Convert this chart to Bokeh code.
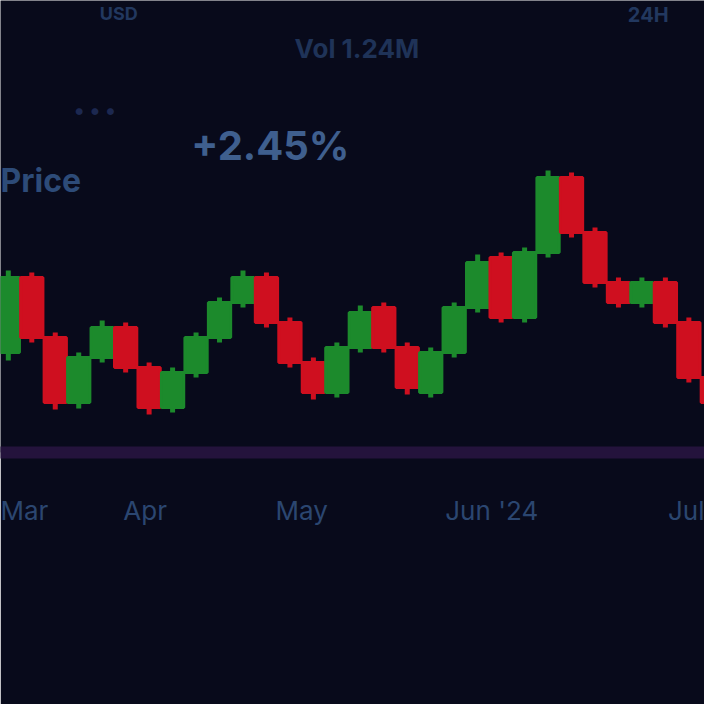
from bokeh.plotting import figure
from bokeh.models import Range1d, FixedTicker, Label, ColumnDataSource
from bokeh.embed import file_html
from bokeh.resources import INLINE

# ---- data ----
idx = list(range(31))
opens = [140, 215, 155, 90, 135, 165, 125, 85, 120, 155, 190, 215, 170, 130, 100, 145,
         185, 145, 100, 140, 185, 235, 175, 240, 315, 260, 210, 190, 210, 170, 115]
closes = [215, 155, 90, 135, 165, 125, 85, 120, 155, 190, 215, 170, 130, 100, 145, 180,
          145, 105, 140, 185, 230, 175, 240, 315, 260, 210, 190, 210, 170, 115, 90]
highs = [222, 220, 160, 140, 172, 170, 130, 125, 160, 195, 222, 220, 175, 135, 150, 187,
         190, 150, 145, 190, 238, 240, 245, 322, 320, 265, 215, 215, 215, 175, 120]
lows = [132, 150, 83, 84, 130, 120, 78, 80, 115, 150, 185, 165, 125, 93, 95, 140,
        140, 98, 95, 135, 180, 170, 170, 235, 255, 205, 185, 185, 165, 110, 84]
tick_pos = [0.42, 5.83, 12.5, 20.6, 29.2]
tick_labels = ["Mar", "Apr", "May", "Jun '24", "Jul"]

GREEN = "#1c8a2c"
RED = "#cf0f1f"
BG = "#080a1b"

colors = [GREEN if c >= o else RED for o, c in zip(opens, closes)]
top = [max(o, c) for o, c in zip(opens, closes)]
bot = [min(o, c) for o, c in zip(opens, closes)]
src = ColumnDataSource(dict(x=idx, top=top, bot=bot, hi=highs, lo=lows, color=colors))

p = figure(width=704, height=704, output_backend="svg", toolbar_location=None,
           x_range=Range1d(-8 / 24, 712 / 24), y_range=Range1d(40, 492),
           background_fill_color=BG, border_fill_color=BG,
           min_border_left=0, min_border_right=0, min_border_top=0, min_border_bottom=252)
p.outline_line_color = None
p.grid.visible = False
p.yaxis.visible = False

p.segment(x0="x", x1="x", y0="lo", y1="hi", color="color", line_width=5, source=src)
p.vbar(x="x", top="top", bottom="bot", width=0.95, fill_color="color",
       line_color="color", line_width=3, source=src)

ax = p.xaxis[0]
ax.ticker = FixedTicker(ticks=tick_pos)
ax.major_label_overrides = {t: l for t, l in zip(tick_pos, tick_labels)}
ax.axis_line_color = "#24133c"
ax.axis_line_width = 12
ax.major_tick_line_color = None
ax.minor_tick_line_color = None
ax.major_label_standoff = 36
ax.major_label_text_font_size = "26px"
ax.major_label_text_color = "#2b4670"
ax.major_label_text_font = "Inter"

# header texts (placed in data units of the chart)
def lab(x, y, text, size, color):
    p.add_layout(Label(x=x, y=y, text=text, text_font_size=size, text_color=color,
                       text_font="Inter", text_font_style="bold", text_baseline="top"))

lab(7.8, 372, "+2.45%", "40px", "#3f5f8e")
lab(12.2, 460, "Vol 1.24M", "26px", "#1f3358")
lab(-0.33, 332, "Price", "32px", "#2d4b78")
lab(2.8, 396, "• • •", "22px", "#1c2850")
lab(3.9, 490, "USD", "18px", "#22385f")
lab(26.4, 490, "24H", "20px", "#22385f")

open("out.html", "w").write(file_html(p, INLINE))
